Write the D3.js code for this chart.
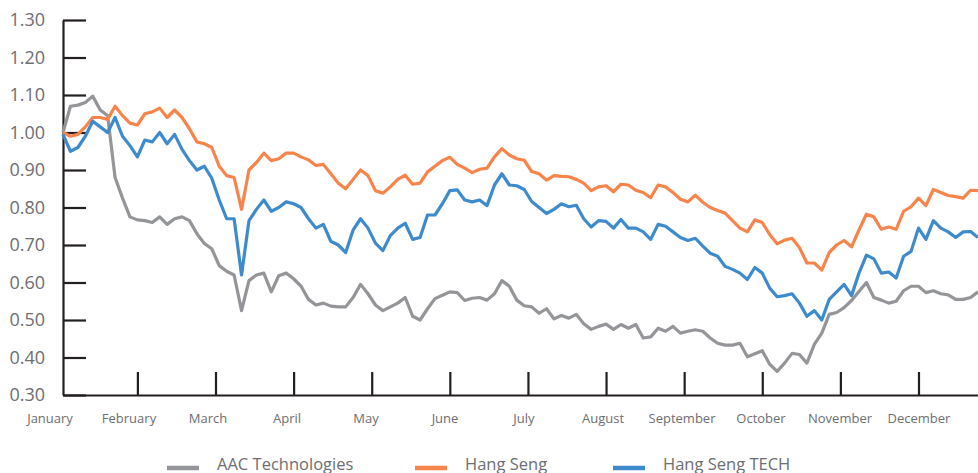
<!DOCTYPE html>
<html><head><meta charset="utf-8">
<script src="https://cdn.jsdelivr.net/npm/d3@7"></script>
<style>
html,body{margin:0;padding:0;background:#fff;}
svg{display:block;}
</style></head>
<body>
<svg id="chart" width="978" height="473"></svg>
<script>
// Trading-day index (every 2nd trading day sampled)
const dayStep = 2;
const lastDay = 246;
const months = ["January","February","March","April","May","June","July","August","September","October","November","December"];
const monthStartDays = [20,41,62,83,104,125,146,167,188,209,230];
const yTicks = [0.3,0.4,0.5,0.6,0.7,0.8,0.9,1.0,1.1,1.2,1.3];
const seriesNames = ["AAC Technologies","Hang Seng","Hang Seng TECH"];

const aac = [1.00,1.07,1.073,1.08,1.097,1.06,1.045,0.88,0.825,0.775,0.767,0.765,0.76,0.775,0.755,0.77,0.775,0.765,0.73,0.704,0.69,0.645,0.63,0.62,0.525,0.605,
0.62,0.625,0.575,0.618,0.625,0.61,0.59,0.555,0.54,0.545,0.537,0.535,0.535,0.56,0.595,0.57,0.54,0.525,0.535,0.545,0.56,0.51,0.50,0.53,0.557,
0.566,0.575,0.573,0.552,0.558,0.56,0.553,0.57,0.605,0.59,0.553,0.538,0.535,0.518,0.53,0.503,0.512,0.505,0.515,0.49,0.475,0.483,0.489,0.475,0.488,
0.478,0.488,0.452,0.455,0.478,0.47,0.483,0.465,0.47,0.474,0.47,0.452,0.438,0.433,0.433,0.438,0.402,0.41,0.418,0.382,0.363,0.385,0.411,0.408,
0.385,0.435,0.465,0.515,0.52,0.533,0.552,0.576,0.60,0.56,0.553,0.545,0.55,0.578,0.59,0.59,0.573,0.578,0.57,0.567,0.555,0.555,0.56,0.575];

const hangSeng = [1.00,0.99,0.995,1.015,1.04,1.04,1.035,1.07,1.045,1.025,1.02,1.05,1.055,1.065,1.04,1.06,1.04,1.01,0.975,0.97,0.96,0.91,0.885,0.88,0.795,0.90,
0.92,0.945,0.925,0.93,0.945,0.945,0.935,0.927,0.912,0.915,0.89,0.865,0.85,0.875,0.90,0.885,0.845,0.838,0.855,0.875,0.886,0.862,0.865,0.895,0.91,
0.925,0.934,0.915,0.905,0.893,0.902,0.905,0.935,0.957,0.94,0.93,0.926,0.896,0.89,0.873,0.885,0.883,0.882,0.875,0.865,0.845,0.855,0.858,0.842,0.862,
0.86,0.846,0.84,0.826,0.86,0.855,0.84,0.822,0.815,0.833,0.814,0.80,0.792,0.785,0.765,0.745,0.735,0.767,0.76,0.728,0.703,0.713,0.718,0.693,
0.652,0.652,0.633,0.68,0.70,0.712,0.695,0.74,0.782,0.775,0.742,0.748,0.742,0.79,0.802,0.825,0.805,0.848,0.84,0.832,0.829,0.825,0.846,0.845];

const hangSengTech = [0.995,0.95,0.96,0.99,1.03,1.015,1.00,1.04,0.99,0.965,0.935,0.98,0.975,1.00,0.97,0.995,0.955,0.925,0.90,0.91,0.878,0.82,0.77,0.77,0.62,0.765,
0.795,0.82,0.79,0.80,0.815,0.81,0.80,0.77,0.745,0.755,0.71,0.70,0.68,0.74,0.77,0.745,0.705,0.685,0.725,0.745,0.758,0.715,0.72,0.78,0.78,
0.81,0.845,0.847,0.82,0.815,0.82,0.805,0.86,0.89,0.86,0.858,0.848,0.816,0.80,0.784,0.795,0.81,0.802,0.806,0.77,0.748,0.765,0.763,0.745,0.768,
0.745,0.745,0.735,0.715,0.755,0.75,0.735,0.72,0.712,0.718,0.697,0.678,0.67,0.643,0.635,0.625,0.608,0.64,0.625,0.585,0.562,0.565,0.57,0.545,
0.51,0.525,0.50,0.555,0.575,0.595,0.565,0.625,0.673,0.663,0.625,0.628,0.612,0.67,0.683,0.745,0.715,0.765,0.745,0.735,0.72,0.735,0.736,0.72];

const colors = ["#939598","#f6844b","#3d8bcd"];
const seriesData = [aac, hangSeng, hangSengTech];

const svg = d3.select("#chart");
const x = d3.scaleLinear().domain([0, lastDay]).range([63, 978]);
const y = d3.scaleLinear().domain([0.3, 1.3]).range([395, 20]);
const axisColor = "#231f20";
const textColor = "#6d6e71";
const font = "'Open Sans', 'Noto Sans', sans-serif";

// Y axis
const yAxis = d3.axisLeft(y).tickValues(yTicks).tickSizeInner(-23).tickSizeOuter(0)
  .tickPadding(18).tickFormat(d3.format(".2f"));
const gy = svg.append("g").attr("transform", "translate(63,0)").call(yAxis);
gy.selectAll("path,line").attr("stroke", axisColor).attr("stroke-width", 2.2);
gy.selectAll("text").attr("fill", textColor).style("font-family", font).style("font-size", "18px");

// X axis
const xAxis = d3.axisBottom(x).tickValues(monthStartDays).tickSizeInner(-23).tickSizeOuter(0).tickFormat("");
const gx = svg.append("g").attr("transform", "translate(0,395)").call(xAxis);
gx.selectAll("path,line").attr("stroke", axisColor).attr("stroke-width", 2.2);

// Month labels
const mx = d3.scalePoint().domain(months).range([50, 919]);
svg.append("g").selectAll("text").data(months).join("text")
  .attr("x", d => mx(d)).attr("y", 423).attr("text-anchor", "middle")
  .attr("fill", textColor).style("font-family", font).style("font-size", "13px")
  .text(d => d);

// Lines
const line = d3.line().x((d, i) => x(i * dayStep)).y(d => y(d));
svg.append("g").selectAll("path").data(seriesData).join("path")
  .attr("d", d => line(d)).attr("fill", "none")
  .attr("stroke", (d, i) => colors[i]).attr("stroke-width", 3.2)
  .attr("stroke-linejoin", "round");

// Legend
const legendX = [167, 415, 613];
const lg = svg.append("g").selectAll("g").data(seriesNames).join("g")
  .attr("transform", (d, i) => `translate(${legendX[i]},0)`);
lg.append("line").attr("x1", 0).attr("x2", 32).attr("y1", 468).attr("y2", 468)
  .attr("stroke", (d, i) => colors[i]).attr("stroke-width", 4.5);
lg.append("text").attr("x", 50).attr("y", 470).attr("fill", textColor)
  .style("font-family", font).style("font-size", "16.5px").text(d => d);
</script>
</body></html>
